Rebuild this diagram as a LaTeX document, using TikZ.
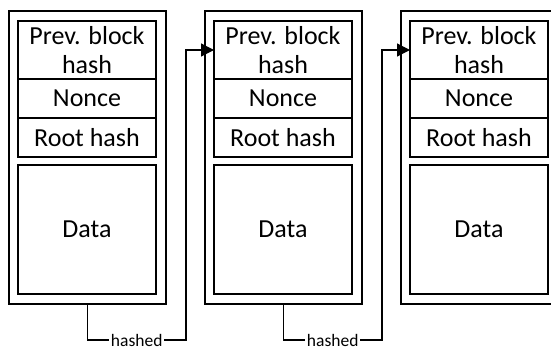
\documentclass[tikz,border=0pt]{standalone}
\usepackage{fontspec}
\setmainfont{Carlito}
\usetikzlibrary{arrows.meta,calc}
\tikzset{
  box/.style={draw,line width=1.2pt,rectangle,anchor=north west,inner sep=0pt,outer sep=0pt,minimum width=#1},
  cell/.style={box=138pt,align=center,font=\fontsize{26}{29}\selectfont},
  link/.style={line width=1.2pt,-{Triangle[length=13pt,width=13pt]}},
  lbl/.style={fill=white,inner xsep=1.5pt,inner ysep=0pt,yshift=-0.5pt,font=\fontsize{17.5}{20}\selectfont}
}
\begin{document}
\begin{tikzpicture}[x=1pt,y=-1pt]
\useasboundingbox (0,0) rectangle (551,350);
\foreach \i/\x in {1/9,2/205,3/401}{
  \node[box=157pt,minimum height=293pt] (o\i) at (\x,11) {};
  \node[cell,minimum height=58pt] (p\i) at (\x+9,21) {Prev. block\\hash};
  \node[cell,minimum height=39pt] (n\i) at (\x+9,79) {Nonce};
  \node[cell,minimum height=39pt] (r\i) at (\x+9,118) {Root hash};
  \node[cell,minimum height=129pt] (d\i) at (\x+9,165) {Data};
}
\coordinate (c1) at (186,340);
\coordinate (c2) at (382,340);
\draw[link] (o1.south) |- node[lbl,pos=0.75] {hashed} (c1) |- (p2.west);
\draw[link] (o2.south) |- node[lbl,pos=0.75] {hashed} (c2) |- (p3.west);
\end{tikzpicture}
\end{document}
